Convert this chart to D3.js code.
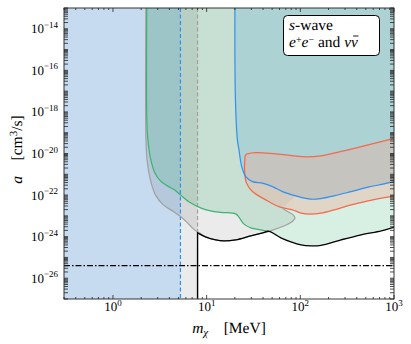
<!DOCTYPE html>
<html><head><meta charset="utf-8">
<script src="https://cdn.jsdelivr.net/npm/d3@7"></script>
<style>body{margin:0;background:#fff}svg{display:block}text{text-rendering:geometricPrecision}</style>
</head><body>
<script>
// ---- data (m in MeV, a in cm^3/s) ----
const xDomain = [0.3, 1000];
const yDomain = [1e-27, 1e-13];
const massLimitBlue = 5.25;   // blue dashed vertical bound
const massLimitGrey = 8.0;    // grey dashed / black vertical bound
const relicA = 4e-26;         // dash-dot line
const xTickExps = [0, 1, 2, 3];
const yLabelExps = [-26, -24, -22, -20, -18, -16, -14];

const blackCurve = [[8.0,1.52e-24],[9.7,9.77e-25],[12.5,7.01e-25],[15.2,6.28e-25],[20.4,7.0e-25],[29.6,1.09e-24],[39.7,1.52e-24],[46.1,1.80e-24],[62,8.8e-25],[79.3,5.62e-25],[101.5,4.04e-25],[130,3.61e-25],[166,3.82e-25],[272,7.0e-25],[446,1.22e-24],[731,1.90e-24],[1000,2.80e-24],[1100,3.0e-24]];
const greyLeft = [[2.25,1e-12],[2.25,4.51e-20],[2.31,4.92e-21],[2.51,5.38e-22],[2.84,1.02e-22],[3.45,3.38e-23],[4.42,1.61e-23],[5.25,9.25e-24],[6.25,4.60e-24],[7.24,2.30e-24],[8.19,1.61e-24]];
const greyRight = [[64.6,3.06e-24],[79.3,4.76e-24],[87.5,7.74e-24],[84,1.12e-23],[73.1,1.61e-23],[64.6,2.34e-23]];
const greenLine = [[2.30,1e-12],[2.30,4.12e-19],[2.36,4.51e-20],[2.51,6.14e-21],[2.77,1.30e-21],[3.21,4.82e-22],[3.81,2.77e-22],[4.53,1.78e-22],[5.25,1.02e-22],[6.73,4.22e-23],[8.61,2.43e-23],[11.0,1.74e-23],[14.1,1.47e-23],[20.4,1.25e-23],[22.0,8.95e-24],[24.9,4.12e-24],[29.6,2.65e-24],[37.8,2.12e-24],[46.1,1.80e-24]];
const blueLine = [[20.06,1e-12],[20.26,5.45e-18],[21.29,4.51e-20],[22.14,1.49e-20],[23.67,2.34e-21],[26.13,7.74e-22],[30.83,4.46e-22],[39.46,3.73e-22],[50.5,2.56e-22],[64.6,1.47e-22],[89.8,9.16e-23],[130,6.35e-23],[166,6.79e-23],[229,9.16e-23],[349,1.47e-22],[530,2.40e-22],[787,3.45e-22],[1000,4.46e-22],[1100,4.9e-22]];
const redRegion = [[26.13,8.57e-21],[33.4,1.10e-20],[54.8,9.57e-21],[114.8,6.87e-21],[166,7.67e-21],[229,1.03e-20],[349,1.61e-20],[530,2.59e-20],[787,4.04e-20],[1000,5.32e-20],[1150,6.2e-20],[1150,1.1e-22],[1000,9.16e-23],[787,7.59e-23],[530,5.26e-23],[349,3.38e-23],[229,1.94e-23],[166,1.35e-23],[130,1.21e-23],[101.5,1.35e-23],[82.7,1.94e-23],[59.0,2.80e-23],[42.8,5.87e-23],[30.8,1.47e-22],[26.6,3.86e-22],[25.5,1.17e-21],[25.6,4.92e-21]];

// ---- layout ----
const W = 411, H = 344;
const L = 64, R = 394, T = 8, B = 299;
const FONT = "'Liberation Serif','DejaVu Serif',serif";

const svg = d3.select("body").append("svg").attr("width", W).attr("height", H);
const x = d3.scaleLog().domain(xDomain).range([L, R]);
const y = d3.scaleLog().domain(yDomain).range([B, T]);

svg.append("defs").append("clipPath").attr("id","clip")
  .append("rect").attr("x",L).attr("y",T).attr("width",R-L).attr("height",B-T);
const g = svg.append("g").attr("clip-path","url(#clip)");

const line = d3.line().x(d=>x(d[0])).y(d=>y(d[1])).curve(d3.curveCatmullRom.alpha(0.5));
const lin = d3.line().x(d=>x(d[0])).y(d=>y(d[1]));
function join(segs, close){ return segs.map((s,i)=> i? s.replace(/^M/,'L') : s).join('') + (close?'Z':''); }

// region A (m < 8 MeV)
g.append("rect").attr("x",x(xDomain[0])).attr("y",T).attr("width",x(massLimitGrey)-x(xDomain[0])).attr("height",B-T).attr("fill","#ebebeb");
// region B (m < 5.25 MeV)
g.append("rect").attr("x",x(xDomain[0])).attr("y",T).attr("width",x(massLimitBlue)-x(xDomain[0])).attr("height",B-T).attr("fill","#c6dbef");

// grey-outlined region
const greyFull = greyLeft.concat(blackCurve.slice(1,8), greyRight);
g.append("path").attr("d", join([line(greyFull), lin([greyRight[greyRight.length-1],[89.8,9.16e-23]]), line(blueLine.slice(10)), lin([[1100,1e-12],[2.25,1e-12]])], true))
  .attr("fill","rgba(0,0,0,0.08)");
// green region
g.append("path").attr("d", join([line(greenLine), line(blackCurve.slice(7)), lin([[1100,1e-12],[2.30,1e-12]])], true))
  .attr("fill","rgba(60,179,113,0.2)");
// blue region
g.append("path").attr("d", join([line(blueLine), lin([[1100,1e-12],[20.06,1e-12]])], true))
  .attr("fill","rgba(50,150,210,0.18)");
// red region
g.append("path").attr("d", d3.line().x(d=>x(d[0])).y(d=>y(d[1])).curve(d3.curveCatmullRomClosed.alpha(0.5))(redRegion))
  .attr("fill","rgba(236,175,160,0.4)").attr("stroke","#f46a4e").attr("stroke-width",1.3);

// vertical dashed lines
g.append("line").attr("x1",x(massLimitBlue)).attr("x2",x(massLimitBlue)).attr("y1",T).attr("y2",B)
  .attr("stroke","#3090f0").attr("stroke-width",1.2).attr("stroke-dasharray","4,2.5");
g.append("line").attr("x1",x(massLimitGrey)).attr("x2",x(massLimitGrey)).attr("y1",T).attr("y2",y(blackCurve[0][1]))
  .attr("stroke","#a0a0a0").attr("stroke-width",1.2).attr("stroke-dasharray","4,2.5");

// outlines
g.append("path").attr("d", line(greyFull)).attr("fill","none").attr("stroke","#a0a0a0").attr("stroke-width",1.2);
g.append("path").attr("d", line(greenLine)).attr("fill","none").attr("stroke","#3cb371").attr("stroke-width",1.2);
g.append("path").attr("d", line(blueLine)).attr("fill","none").attr("stroke","#3090f0").attr("stroke-width",1.2);
// black combined bound
g.append("path").attr("d", join([lin([[massLimitGrey,yDomain[0]],blackCurve[0]]), line(blackCurve)], false))
  .attr("fill","none").attr("stroke","#000").attr("stroke-width",1.4);
// dash-dot relic line
g.append("line").attr("x1",L).attr("x2",R).attr("y1",y(relicA)).attr("y2",y(relicA))
  .attr("stroke","#000").attr("stroke-width",1.3).attr("stroke-dasharray","6,2,1.5,2");

// frame
svg.append("rect").attr("x",L).attr("y",T).attr("width",R-L).attr("height",B-T)
  .attr("fill","none").attr("stroke","#222").attr("stroke-width",0.9);

// ticks
const tk = svg.append("g").attr("stroke","#222").attr("stroke-width",0.8);
x.ticks().forEach(v=>{
  const e = Math.log10(v), major = Math.abs(e-Math.round(e))<1e-9;
  const len = major?4:2, px = x(v);
  if (px < L-0.1 || px > R+0.1) return;
  tk.append("line").attr("x1",px).attr("x2",px).attr("y1",B).attr("y2",B-len);
  tk.append("line").attr("x1",px).attr("x2",px).attr("y1",T).attr("y2",T+len);
});
y.ticks(20).forEach(v=>{
  const py = y(v);
  tk.append("line").attr("x1",L).attr("x2",L+4).attr("y1",py).attr("y2",py);
  tk.append("line").attr("x1",R).attr("x2",R-4).attr("y1",py).attr("y2",py);
});

// tick labels
const txt = svg.append("g").attr("font-family",FONT).attr("fill","#000");
xTickExps.forEach(e=>{
  const t = txt.append("text").attr("x",x(Math.pow(10,e))).attr("y",311).attr("text-anchor","middle").attr("font-size",13);
  t.append("tspan").text("10");
  t.append("tspan").attr("dy",-5.5).attr("font-size",9).text(String(e));
});
yLabelExps.forEach(e=>{
  const t = txt.append("text").attr("x",58).attr("y",y(Math.pow(10,e))+4.5).attr("text-anchor","end").attr("font-size",13);
  t.append("tspan").text("10");
  t.append("tspan").attr("dy",-5.5).attr("font-size",9).text("\u2212"+Math.abs(e));
});

// axis labels
const xl = txt.append("text").attr("x",(L+R)/2).attr("y",333).attr("text-anchor","middle").attr("font-size",15.5);
xl.append("tspan").attr("font-style","italic").text("m");
xl.append("tspan").attr("font-style","italic").attr("font-size",11).attr("dy",3).text("\u03c7");
xl.append("tspan").attr("dy",-3).text("\u2002\u2002[MeV]");

const yl = txt.append("text").attr("transform",`translate(22,${(T+B)/2-4}) rotate(-90)`).attr("text-anchor","middle").attr("font-size",15.5);
yl.append("tspan").attr("font-style","italic").text("a");
yl.append("tspan").text("\u2002\u2002[cm");
yl.append("tspan").attr("dy",-5.5).attr("font-size",11).text("3");
yl.append("tspan").attr("dy",5.5).text("/s]");

// legend box (drawn before its text)
svg.append("rect").attr("x",283.5).attr("y",15.5).attr("width",96).attr("height",40).attr("rx",4)
  .attr("fill","#fff").attr("stroke","#000").attr("stroke-width",1);
const lg = svg.append("g").attr("font-family",FONT).attr("fill","#000");
const lt = lg.append("text").attr("x",289).attr("y",30).attr("font-size",15.5);
lt.append("tspan").attr("font-style","italic").text("s");
lt.append("tspan").text("-wave");
lt.append("tspan").attr("x",289).attr("dy",16.5).attr("font-style","italic").text("e");
lt.append("tspan").attr("dy",-4).attr("font-size",10).text("+");
lt.append("tspan").attr("dy",4).attr("font-style","italic").text("e");
lt.append("tspan").attr("dy",-4).attr("font-size",10).text("\u2212");
lt.append("tspan").attr("dy",4).text(" and ");
lt.append("tspan").attr("font-style","italic").text("\u03bd\u03bd");
// bar over the last nu
const n2 = lt.node(), nc = n2.getNumberOfChars();
const bb = n2.getExtentOfChar(nc-1);
lg.append("line").attr("x1",bb.x+2).attr("x2",bb.x+bb.width+0.5).attr("y1",36).attr("y2",36)
  .attr("stroke","#000").attr("stroke-width",0.9);
</script>
</body></html>
